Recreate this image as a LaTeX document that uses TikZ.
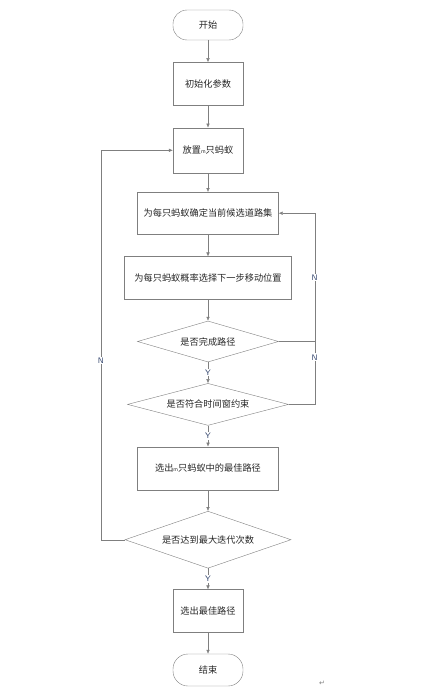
\documentclass[tikz,border=0pt]{standalone}
\usepackage{fontspec}
\newfontfamily\cjk{Noto Sans CJK SC}
\newfontfamily\symfont{DejaVu Sans}
\usetikzlibrary{arrows.meta,positioning,shapes.geometric}
\definecolor{LineGray}{HTML}{7F7F7F}
\definecolor{InkDark}{HTML}{262626}
\definecolor{LabelNavy}{HTML}{34466E}

\begin{document}
\begin{tikzpicture}[x=1pt,y=1pt,node distance=22pt,
    every node/.style={font=\cjk\fontsize{9.2}{11}\selectfont,text=InkDark},
    term/.style={draw=LineGray,rounded corners=14pt,minimum width=70pt,minimum height=30pt},
    proc/.style={draw=LineGray,minimum width=70pt,minimum height=43pt,align=center},
    cond/.style={draw=LineGray,diamond,aspect=3.5,inner sep=0pt,minimum width=141pt,minimum height=41pt},
    lbl/.style={fill=white,inner sep=1pt,text=LabelNavy,font=\sffamily\fontsize{8}{9}\selectfont},
    arr/.style={-{Latex[length=4pt,width=3.5pt]},LineGray},
    line/.style={LineGray}]
    \useasboundingbox (0,0) rectangle (431,-693);
    \node[term] (start) at (208,-25) {开始};
    \node[proc,below=of start] (init) {初始化参数};
    \node[proc,below=of init,minimum height=45pt] (ants) {放置{\fontsize{5}{6}\selectfont m}只蚂蚁};
    \node[proc,below=19pt of ants,minimum width=141pt,minimum height=42pt] (cand) {为每只蚂蚁确定当前候选道路集};
    \node[proc,below=of cand,minimum width=167pt] (move) {为每只蚂蚁概率选择下一步移动位置};
    \node[cond,below=21pt of move] (done) {是否完成路径};
    \node[cond,below=21pt of done,minimum width=161pt,minimum height=42pt] (win) {是否符合时间窗约束};
    \node[proc,below=21pt of win,minimum width=141pt] (best) {选出{\fontsize{5}{6}\selectfont m}只蚂蚁中的最佳路径};
    \node[cond,below=21pt of best,minimum width=166pt,minimum height=57pt] (iter) {是否达到最大迭代次数};
    \node[proc,below=21pt of iter] (final) {选出最佳路径};
    \node[term,below=21pt of final,minimum height=32pt,rounded corners=15pt] (stop) {结束};
    \node[text=LineGray,font=\symfont\fontsize{7}{8}\selectfont] (mark) at (322,-683) {↵};
    \coordinate[right=26pt of win.east] (rt);
    \coordinate[left=24pt of iter.west] (lt);

    \draw[arr] (start) -- (init);
    \draw[arr] (init) -- (ants);
    \draw[arr] (ants) -- (cand);
    \draw[arr] (cand) -- (move);
    \draw[arr] (move) -- (done);
    \draw[arr] (done) -- node[lbl]{Y} (win);
    \draw[arr] (win) -- node[lbl]{Y} (best);
    \draw[arr] (best) -- (iter);
    \draw[arr] (iter) -- node[lbl]{Y} (final);
    \draw[arr] (final) -- (stop);
    % loops back
    \draw[line] (win.east) -- (rt) -- node[lbl,pos=.75]{N} (rt |- done.east);
    \draw[arr] (done.east) -- (rt |- done.east) |- node[lbl,pos=.25]{N} (cand.east);
    \draw[arr] (iter.west) -- (lt) |- node[lbl,pos=.23]{N} (ants.west);
  \end{tikzpicture}
\end{document}
